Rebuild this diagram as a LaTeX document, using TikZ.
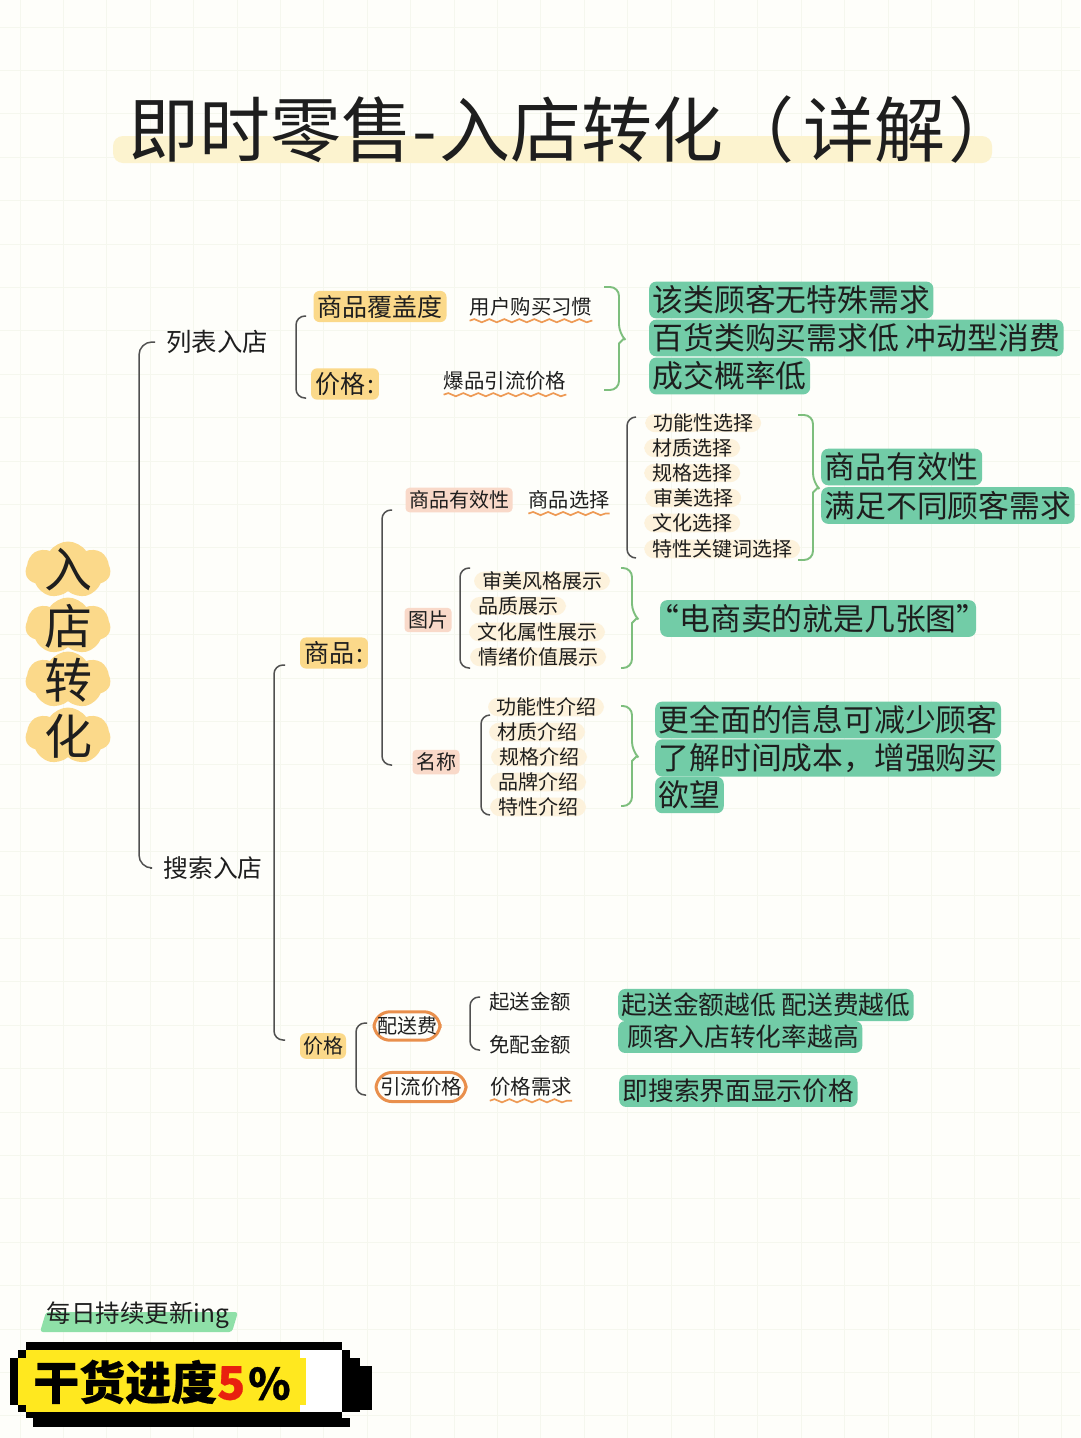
\documentclass[tikz,border=0pt]{standalone}
\usepackage{fontspec}
\setmainfont{Noto Sans CJK SC}
\usetikzlibrary{calc,shapes.geometric,shapes.symbols,decorations.pathmorphing}
\definecolor{paper}{HTML}{FEFEFA}
\definecolor{gridc}{HTML}{F5F7EE}
\definecolor{titlebar}{HTML}{FCF3CF}
\definecolor{blob}{HTML}{FBD98A}
\definecolor{amber}{HTML}{FBD98A}
\definecolor{pinkc}{HTML}{F9D9C9}
\definecolor{cream}{HTML}{FDF2DC}
\definecolor{mint}{HTML}{72CCA7}
\definecolor{wavec}{HTML}{EE9A55}
\definecolor{ringc}{HTML}{E98F4C}
\definecolor{greenl}{HTML}{7DBE7D}
\definecolor{inkc}{HTML}{1E1E1E}
\definecolor{linec}{HTML}{505050}
\definecolor{yellowc}{HTML}{FFE81F}
\definecolor{tagc}{HTML}{8FE0A8}
\definecolor{redc}{HTML}{E8200F}
\tikzset{
	txt/.style={inner sep=0pt,text=inkc,font=\fontsize{#1}{#1}\selectfont},
	txt/.default=20,
	amberbox/.style={txt=#1,fill=amber,rounded corners=6pt,inner xsep=4pt,inner ysep=4pt},
	pinkbox/.style={txt=20,fill=pinkc,rounded corners=4pt,inner xsep=3.5pt,inner ysep=3pt},
	creambox/.style={txt=20,fill=cream,rounded corners=10pt,inner xsep=8pt,inner ysep=0pt},
	mintbox/.style={txt=#1,anchor=west,fill=mint,rounded corners=7pt,inner xsep=3.5pt,inner ysep=4pt},
	mintbox/.default=30.8,
	ringbox/.style={txt=#1,draw=ringc,line width=3pt,rounded corners=16pt,inner ysep=5pt},
	blobnode/.style={txt=48,cloud,cloud puffs=7,cloud puff arc=110,aspect=1.5,fill=blob,
		inner sep=-9pt,minimum width=85pt,minimum height=57pt},
	lbrk/.style={draw=linec,line width=1.5pt,rounded corners=9pt,
		to path={(\tikztostart) -- ++(-#1,0) |- (\tikztotarget)}},
	rbrc/.style={draw=greenl,line width=1.9pt,rounded corners=9pt,
		to path={(\tikztostart) -- ++(#1,0)
			-- ($(\tikztostart)!.5!(\tikztotarget)+(#1,-5)$) [sharp corners]
			-- ($(\tikztostart)!.5!(\tikztotarget)+({#1+5},0)$)
			-- ($(\tikztostart)!.5!(\tikztotarget)+(#1,5)$) [rounded corners=9pt]
			-- ($(\tikztotarget)+(#1,0)$) -- (\tikztotarget)}},
	wavy/.style={draw=wavec,line width=1.7pt,decorate,
		decoration={snake,segment length=15pt,amplitude=1.6pt},
		to path={($(\tikztostart)+(0,4)$) -- ($(\tikztotarget)+(0,4)$)}},
	pix/.style={fill=black,draw=none}
}
\begin{document}
\begin{tikzpicture}[x=1pt,y=-1pt]
	\useasboundingbox (0,0) rectangle (1080,1438);
	\fill[paper] (0,0) rectangle (1080,1438);
	\foreach \k in {0,...,24}
		\draw[gridc,line width=1pt] ({20+43.4*\k},0) -- ({20+43.4*\k},1438);
	\foreach \k in {0,...,32}
		\draw[gridc,line width=1pt] (0,{27+43.4*\k}) -- (1080,{27+43.4*\k});

	\fill[titlebar,rounded corners=10pt] (113,136) rectangle (992,163);
	\node[txt=71,anchor=west] (title) at (128,130) {即时零售-\kern3pt入店转化（\kern9pt详解\kern3pt）};

	\node[blobnode] (ru) at (68,570) {入};
	\node[blobnode] (dian) at (68,626) {店};
	\node[blobnode] (zhuan) at (68,680) {转};
	\node[blobnode] (hua) at (68,736) {化};

	\node[txt=25.4] (liebiao) at (217,342) {列表入店};
	\node[txt=24.8] (sousuo) at (213,868) {搜索入店};
	\coordinate (rootT) at (155,342);
	\coordinate (rootB) at (150,868);
	\draw[lbrk=16,rounded corners=13pt] (rootT) to (rootB);

	\node[amberbox=25] (fugai) at (380,306.5) {商品覆盖度};
	\node[amberbox=25] (jiage) at (345,384) {价格\kern2pt:\kern1pt};
	\coordinate (listT) at (306,316);
	\coordinate (listB) at (306,398);
	\draw[lbrk=10] (listT) to (listB);
	\node[txt=20.4] (xiguan) at (531,307) {用户购买习惯};
	\node[txt=20.4] (baopin) at (505,381) {爆品引流价格};
	\draw[wavy] (xiguan.south west) to (xiguan.south east);
	\draw[wavy] (baopin.south west) to (baopin.south east);
	\coordinate (listBraceT) at (604,287);
	\coordinate (listBraceB) at (604,390);
	\draw[rbrc=15] (listBraceT) to (listBraceB);
	\node[mintbox] (note1) at (649,300) {该类顾客无特殊需求};
	\node[mintbox] (note2) at (649,338) {百货类购买需求低 冲动型消费};
	\node[mintbox] (note3) at (649,376) {成交概率低};

	\node[amberbox=25] (shangpin) at (334,653) {商品\kern2pt:\kern1pt};
	\coordinate (searchT) at (285,665);
	\coordinate (searchB) at (285,1040);
	\draw[lbrk=11] (searchT) to (searchB);

	\node[pinkbox] (youxiao) at (459,500) {商品有效性};
	\node[pinkbox] (tupian) at (428,620) {图片};
	\node[pinkbox] (mingcheng) at (436,762) {名称};
	\coordinate (goodsT) at (392,510);
	\coordinate (goodsB) at (392,765);
	\draw[lbrk=10] (goodsT) to (goodsB);

	\node[txt=20.2] (xuanze) at (569,500) {商品选择};
	\draw[wavy] (xuanze.south west) to (xuanze.south east);
	\node[creambox,anchor=west] (sel1) at (645,423) {功能性选择};
	\node[creambox,anchor=west] (sel2) at (644,448) {材质选择};
	\node[creambox,anchor=west] (sel3) at (644,473) {规格选择};
	\node[creambox,anchor=west] (sel4) at (645,498) {审美选择};
	\node[creambox,anchor=west] (sel5) at (644,523) {文化选择};
	\node[creambox,anchor=west] (sel6) at (644,549) {特性关键词选择};
	\coordinate (selT) at (636,417);
	\coordinate (selB) at (636,558);
	\draw[lbrk=9] (selT) to (selB);
	\coordinate (selBraceT) at (798,415);
	\coordinate (selBraceB) at (798,560);
	\draw[rbrc=15] (selBraceT) to (selBraceB);
	\node[mintbox] (note4) at (821,467) {商品有效性};
	\node[mintbox] (note5) at (821,505.5) {满足不同顾客需求};

	\node[creambox] (pic1) at (542,581) {审美风格展示};
	\node[creambox] (pic2) at (518,606) {品质展示};
	\node[creambox] (pic3) at (537,632) {文化属性展示};
	\node[creambox] (pic4) at (538,657) {情绪价值展示};
	\coordinate (picT) at (470,568);
	\coordinate (picB) at (470,668);
	\draw[lbrk=10] (picT) to (picB);
	\coordinate (picBraceT) at (621,568);
	\coordinate (picBraceB) at (621,668);
	\draw[rbrc=11] (picBraceT) to (picBraceB);
	\node[mintbox] (note6) at (660,618.5) {\kern-15pt“电商卖的就是几张图”\kern-15pt};

	\node[creambox] (nam1) at (546,707) {功能性介绍};
	\node[creambox] (nam2) at (537,732) {材质介绍};
	\node[creambox] (nam3) at (539,757) {规格介绍};
	\node[creambox] (nam4) at (538,782) {品牌介绍};
	\node[creambox] (nam5) at (538,807) {特性介绍};
	\coordinate (namT) at (490,715);
	\coordinate (namB) at (490,815);
	\draw[lbrk=9] (namT) to (namB);
	\coordinate (namBraceT) at (621,706);
	\coordinate (namBraceB) at (621,806);
	\draw[rbrc=11] (namBraceT) to (namBraceB);
	\node[mintbox] (note7) at (655,720) {更全面的信息可减少顾客};
	\node[mintbox] (note8) at (655,758) {了解时间成本，增强购买};
	\node[mintbox] (note9) at (655,795) {欲望};

	\node[amberbox=20,inner ysep=3.5pt,inner xsep=3pt] (jiage2) at (323,1046) {价格};
	\coordinate (priceT) at (367,1023);
	\coordinate (priceB) at (366,1095);
	\draw[lbrk=11] (priceT) to (priceB);
	\node[ringbox=20,inner xsep=3pt] (peisong) at (407,1026) {配送费};
	\node[ringbox=20.5,inner xsep=4pt] (yinliu) at (421,1087) {引流价格};
	\coordinate (feeT) at (480,997);
	\coordinate (feeB) at (480,1050);
	\draw[lbrk=10] (feeT) to (feeB);
	\node[txt=20.4] (qisong) at (530,1002) {起送金额};
	\node[txt=20.4] (mianpei) at (530,1045) {免配金额};
	\node[txt=20.5] (xuqiu) at (531,1087) {价格需求};
	\draw[wavy] (xuqiu.south west) to (xuqiu.south east);
	\node[mintbox=25.7] (note10) at (618,1005) {起送金额越低 配送费越低};
	\node[mintbox=25.7] (note11) at (618,1037) {\ 顾客入店转化率越高};
	\node[mintbox=25.7] (note12) at (619,1091) {即搜索界面显示价格};

	\fill[tagc,rounded corners=3pt] (46,1312) -- (238,1312) -- (232,1332) -- (40,1332) -- cycle;
	\node[txt=24.5] (tag) at (138,1315) {每日持续更新ing};

	\fill[white] (300,1350) rectangle (342,1412);
	\fill[yellowc] (18,1358) rectangle (26,1405);
	\fill[yellowc] (26,1350) rectangle (300,1412);
	\fill[yellowc] (300,1358) rectangle (306,1405);
	\fill[pix] (26,1342) rectangle (342,1350);
	\fill[pix] (18,1350) rectangle (26,1358);
	\fill[pix] (10,1358) rectangle (18,1405);
	\fill[pix] (18,1405) rectangle (26,1412);
	\fill[pix] (26,1412) rectangle (342,1418);
	\fill[pix] (33,1418) rectangle (350,1427);
	\fill[pix] (342,1350) rectangle (350,1358);
	\fill[pix] (342,1358) rectangle (360,1412);
	\fill[pix] (360,1366) rectangle (372,1410);
	\node[txt=46,anchor=west,text=black,font=\fontsize{46}{46}\bfseries\addfontfeature{FakeBold=0.6}\selectfont] (ganhuo) at (33,1382) {干货进度{\color{redc}5}\kern3pt{\fontsize{43}{43}\selectfont\%}};
\end{tikzpicture}
\end{document}
